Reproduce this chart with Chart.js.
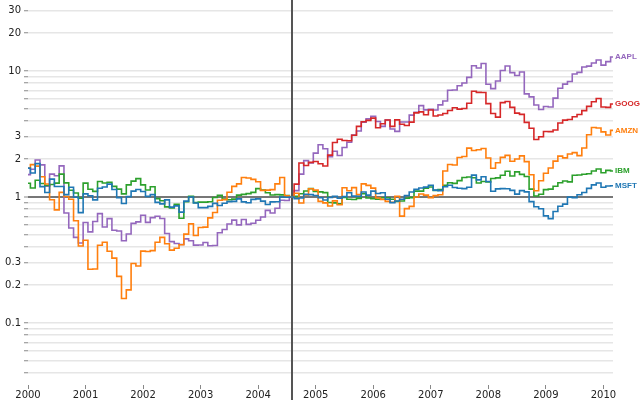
<!DOCTYPE html>
<html>
<head>
<meta charset="utf-8">
<script src="https://cdn.jsdelivr.net/npm/chart.js@4"></script>
<style>
  body { margin: 0; background: #fff; }
</style>
</head>
<body>
<canvas id="chart" width="640" height="400"></canvas>
<script>
// monthly closing prices, Jan 2000 .. Mar 2010 (GOOG from Aug 2004)
const startYear = 2000;
const indexMonth = 55;   // Aug 2004, every series is divided by its price there
const googOffset = 55;   // GOOG starts Aug 2004

const symbols = ['MSFT', 'AMZN', 'IBM', 'GOOG', 'AAPL'];
const colors  = ['#1f77b4', '#ff7f0e', '#2ca02c', '#d62728', '#9467bd'];

const msft = [
  39.81, 36.35, 43.22, 28.37, 25.45, 32.54, 28.4, 28.4, 24.53, 28.02, 23.34, 17.65,
  24.84, 24, 22.25, 27.56, 28.14, 29.7, 26.93, 23.21, 20.82, 23.65, 26.12, 26.95,
  25.92, 23.73, 24.53, 21.26, 20.71, 22.25, 19.52, 19.97, 17.79, 21.75, 23.46, 21.03,
  19.31, 19.34, 19.76, 20.87, 20.09, 20.93, 21.56, 21.65, 22.69, 21.45, 21.1, 22.46,
  22.69, 21.77, 20.46, 21.45, 21.53, 23.44, 23.38, 23.47, 22.76, 23.02, 24.6, 24.52,
  24.11, 23.15, 22.24, 23.28, 23.82, 22.93, 23.64, 25.35, 23.83, 23.8, 25.71, 24.29,
  26.14, 25.04, 25.36, 22.5, 21.19, 21.8, 22.51, 24.13, 25.68, 26.96, 27.66, 28.13,
  29.07, 26.63, 26.35, 28.3, 29.11, 27.95, 27.5, 27.34, 28.04, 35.03, 32.09, 34,
  31.13, 26.07, 27.21, 27.34, 27.25, 26.47, 24.75, 26.36, 25.78, 21.57, 19.66, 18.91,
  16.63, 15.81, 17.99, 19.84, 20.59, 23.42, 23.18, 24.43, 25.49, 27.48, 29.27, 30.34,
  28.05, 28.67, 28.8
];
const amzn = [
  64.56, 68.87, 67, 55.19, 48.31, 36.31, 30.12, 41.5, 38.44, 36.62, 24.69, 15.56,
  17.31, 10.19, 10.23, 15.78, 16.69, 14.15, 12.49, 8.94, 5.97, 6.98, 11.32, 10.82,
  14.19, 14.1, 14.3, 16.69, 18.23, 16.25, 14.45, 14.94, 15.93, 19.36, 23.35, 18.89,
  21.85, 22.01, 26.03, 28.69, 35.89, 36.32, 41.64, 46.32, 48.43, 54.43, 53.97, 52.62,
  50.4, 43.01, 43.28, 43.6, 48.5, 54.4, 38.92, 38.14, 40.86, 34.13, 39.68, 44.29,
  43.22, 35.18, 34.27, 32.36, 35.51, 33.09, 45.15, 42.7, 45.3, 39.86, 48.46, 47.15,
  44.82, 37.44, 36.53, 35.21, 34.61, 38.68, 26.89, 30.83, 32.12, 38.09, 40.34, 39.46,
  37.67, 39.14, 39.79, 61.33, 69.14, 68.41, 78.54, 79.91, 93.15, 89.15, 90.56, 92.64,
  77.7, 64.47, 71.3, 78.63, 81.62, 73.33, 76.34, 80.81, 72.76, 57.24, 42.7, 51.28,
  58.82, 64.79, 73.44, 80.52, 77.99, 83.66, 85.76, 81.19, 93.36, 118.81, 135.91, 134.52,
  125.41, 118.4, 128.82
];
const ibm = [
  100.52, 92.11, 106.11, 99.95, 96.31, 98.33, 100.74, 118.62, 101.19, 88.5, 84.12, 76.47,
  100.76, 89.98, 86.63, 103.7, 100.82, 102.35, 94.87, 90.25, 82.82, 97.58, 104.5, 109.36,
  97.54, 88.82, 94.15, 75.82, 72.97, 65.31, 63.86, 68.52, 53.01, 71.76, 79.16, 70.58,
  71.22, 71.13, 71.57, 77.47, 80.48, 75.42, 74.28, 75.12, 80.91, 81.96, 83.08, 85.05,
  91.06, 88.7, 84.41, 81.04, 81.59, 81.19, 80.19, 78.17, 79.13, 82.84, 87.15, 91.16,
  86.39, 85.78, 84.66, 70.77, 70.18, 68.93, 77.53, 75.07, 74.7, 76.25, 82.98, 76.73,
  75.89, 75.09, 77.17, 77.05, 75.04, 72.15, 72.7, 76.35, 77.26, 87.06, 86.95, 91.9,
  93.79, 88.18, 89.44, 96.98, 101.54, 100.25, 105.4, 111.54, 112.6, 111, 100.9, 103.7,
  102.75, 109.64, 110.87, 116.23, 125.14, 114.6, 123.74, 118.16, 113.53, 90.24, 79.65, 82.15,
  89.46, 90.32, 95.09, 101.29, 104.85, 103.01, 116.34, 117, 118.55, 119.54, 125.79, 130.32,
  121.85, 127.16, 125.55
];
const goog = [
  102.37, 129.6, 190.64, 181.98, 192.79,
  195.62, 187.99, 180.51, 220, 277.27, 294.15, 287.76, 286, 316.46, 372.14, 404.91, 414.86,
  432.66, 362.62, 390, 417.94, 371.82, 419.33, 386.6, 378.53, 401.9, 476.39, 484.81, 460.48,
  501.5, 449.45, 458.16, 471.38, 497.91, 522.7, 510, 515.25, 567.27, 707, 693, 691.48,
  564.3, 471.18, 440.47, 574.29, 585.8, 526.42, 473.75, 463.29, 400.52, 359.36, 292.96, 307.65,
  338.53, 337.99, 348.06, 395.97, 417.23, 421.59, 443.05, 461.67, 495.85, 536.12, 583, 619.98,
  529.94, 526.8, 560.19
];
const aapl = [
  25.94, 28.66, 33.95, 31.01, 21, 26.19, 25.41, 30.47, 12.88, 9.78, 8.25, 7.44,
  10.81, 9.12, 11.03, 12.74, 9.98, 11.62, 9.4, 9.27, 7.76, 8.78, 10.65, 10.95,
  12.36, 10.85, 11.84, 12.14, 11.65, 8.86, 7.63, 7.38, 7.25, 8.03, 7.75, 7.16,
  7.18, 7.51, 7.07, 7.11, 8.98, 9.53, 10.54, 11.31, 10.36, 11.44, 10.45, 10.69,
  11.28, 11.96, 13.52, 12.89, 14.03, 16.27, 16.17, 17.25, 19.38, 26.2, 33.53, 32.2,
  38.45, 44.86, 41.67, 36.06, 39.76, 36.81, 42.65, 46.89, 53.61, 57.59, 67.82, 71.89,
  75.51, 68.49, 62.72, 70.39, 59.77, 57.27, 67.96, 67.85, 76.98, 81.08, 91.66, 84.84,
  85.73, 84.61, 92.91, 99.8, 121.19, 122.04, 131.76, 138.48, 153.47, 189.95, 182.22, 198.08,
  135.36, 125.02, 143.5, 173.95, 188.75, 167.44, 158.95, 169.53, 113.66, 107.59, 92.67, 85.35,
  90.13, 89.31, 105.12, 125.83, 135.81, 142.43, 163.39, 168.21, 185.35, 188.5, 199.91, 210.73,
  192.06, 204.62, 223.02
];
const prices  = [msft, amzn, ibm, goog, aapl];
const offsets = [0, 0, 0, googOffset, 0];

const yearTicks = [2000, 2001, 2002, 2003, 2004, 2005, 2006, 2007, 2008, 2009, 2010];
const yTicks = [0.04, 0.05, 0.06, 0.07, 0.08, 0.09, 0.1, 0.2, 0.3,
                0.4, 0.5, 0.6, 0.7, 0.8, 0.9, 1, 2, 3,
                4, 5, 6, 7, 8, 9, 10, 20, 30];
const yLabels = [0.1, 0.2, 0.3, 1, 2, 3, 10, 20, 30];

// price / price at the index month
function toPoints(series, offset) {
  const base = series[indexMonth - offset];
  return series.map((p, i) => ({ x: startYear + (i + offset) / 12, y: p / base }));
}

const datasets = symbols.map((s, k) => ({
  label: s,
  data: toPoints(prices[k], offsets[k]),
  borderColor: colors[k],
  borderWidth: 1.6,
  pointRadius: 0,
  stepped: 'middle',
  fill: false
}));

const indexPlugin = {
  id: 'indexPlugin',
  beforeDatasetsDraw(chart) {
    const ctx = chart.ctx;
    const x = Math.round(chart.scales.x.getPixelForValue(startYear + indexMonth / 12));
    ctx.save();
    ctx.strokeStyle = '#555';
    ctx.lineWidth = 2;
    ctx.beginPath();
    ctx.moveTo(x, 0);
    ctx.lineTo(x, chart.height);
    ctx.stroke();
    ctx.restore();
  },
  afterDatasetsDraw(chart) {
    const ctx = chart.ctx;
    ctx.save();
    ctx.font = 'bold 8px "Liberation Sans"';
    ctx.textBaseline = 'middle';
    chart.data.datasets.forEach((ds, k) => {
      const last = ds.data[ds.data.length - 1];
      ctx.fillStyle = colors[k];
      ctx.fillText(ds.label, chart.scales.x.getPixelForValue(last.x) + 2,
                   chart.scales.y.getPixelForValue(last.y));
    });
    ctx.restore();
  }
};

Chart.defaults.font.family = '"DejaVu Sans"';
Chart.defaults.font.size = 10;
Chart.defaults.color = '#222';

new Chart(document.getElementById('chart'), {
  type: 'line',
  data: { datasets },
  plugins: [indexPlugin],
  options: {
    responsive: false,
    animation: false,
    layout: { padding: { left: 0, right: 27, top: 0, bottom: 0 } },
    plugins: { legend: { display: false }, tooltip: { enabled: false } },
    scales: {
      x: {
        type: 'linear',
        min: startYear,
        max: startYear + 122 / 12,
        border: { display: false },
        grid: { drawOnChartArea: false, tickLength: 4, tickColor: '#888', tickWidth: 1 },
        ticks: { padding: 0, maxRotation: 0, autoSkip: false, callback: v => String(v) },
        afterBuildTicks: s => { s.ticks = yearTicks.map(v => ({ value: v })); },
        afterFit: s => { s.height = 15; s.paddingLeft = 0; s.paddingRight = 0; }
      },
      y: {
        type: 'logarithmic',
        min: 0.0322,
        max: 36.6,
        border: { display: false },
        grid: {
          color: c => c.tick && c.tick.value === 1 ? '#777' : '#e6e6e6',
          lineWidth: c => c.tick && c.tick.value === 1 ? 2 : 1.5,
          tickLength: 4,
          tickColor: '#888',
          tickWidth: 1
        },
        ticks: {
          padding: 3,
          autoSkip: false,
          callback: v => yLabels.includes(v) ? String(v) : ''
        },
        afterBuildTicks: s => { s.ticks = yTicks.map(v => ({ value: v })); },
        afterFit: s => { s.width = 28; s.paddingTop = 0; s.paddingBottom = 0; }
      }
    }
  }
});
</script>
</body>
</html>
